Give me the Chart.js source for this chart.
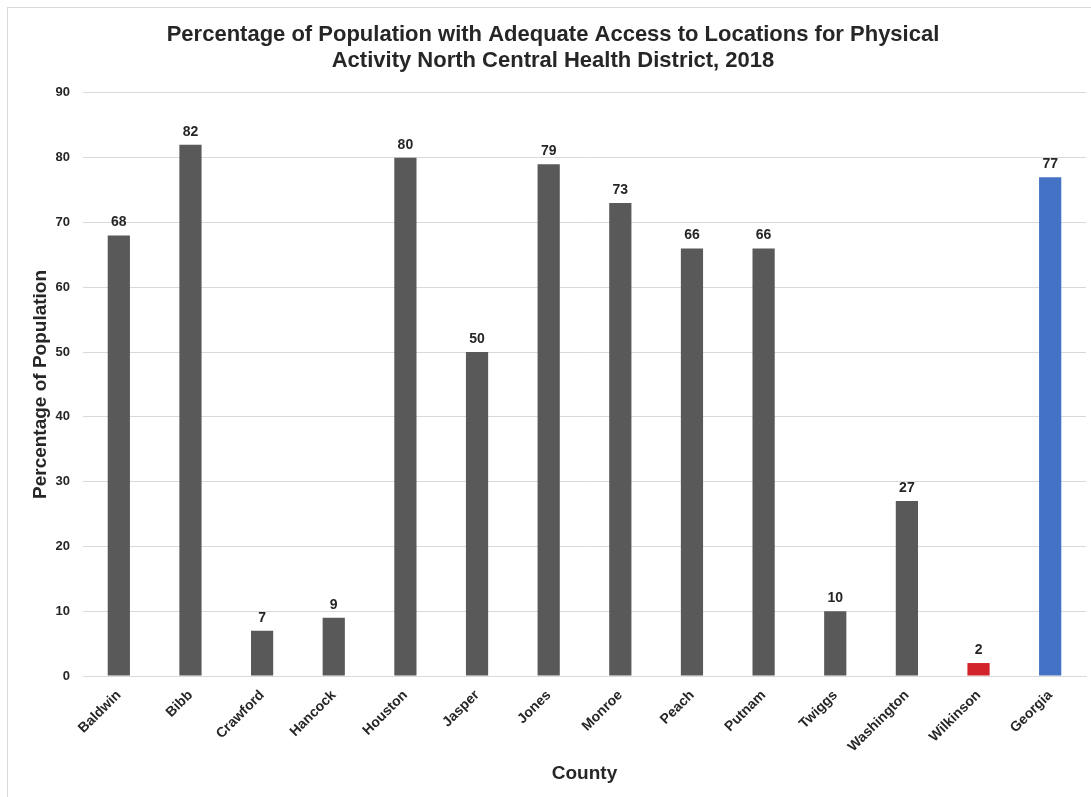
<html>

<head>
    <style>
        html, body { margin: 0; padding: 0; background: #fff; }
        #wrap { position: relative; width: 1091px; height: 797px; }
        #frame { position: absolute; left: 7px; top: 7px; width: 1100px; height: 800px; border-left: 1px solid #d9d9d9; border-top: 1px solid #d9d9d9; }
        canvas { position: absolute; left: 0; top: 0; }
    </style>
</head>

<body>
    <div id="wrap">
        <div id="frame"></div>
        <canvas id="chart_id" width="1091" height="797"></canvas>
    </div>
    <script src="https://cdn.jsdelivr.net/npm/chart.js"></script>
    <script>
        // 카테고리 / 값
        const counties = ['Baldwin', 'Bibb', 'Crawford', 'Hancock', 'Houston', 'Jasper', 'Jones',
            'Monroe', 'Peach', 'Putnam', 'Twiggs', 'Washington', 'Wilkinson', 'Georgia'];
        const percentages = [68, 82, 7, 9, 80, 50, 79, 73, 66, 66, 10, 27, 2, 77];
        const yTicks = [0, 10, 20, 30, 40, 50, 60, 70, 80, 90];

        const barColors = counties.map(c => c === 'Georgia' ? '#4472C4' : (c === 'Wilkinson' ? '#D2232A' : '#595959'));

        const FONT = "'Liberation Sans', Arial, sans-serif";

        // 막대 위 값 표시
        const valueLabels = {
            id: 'valueLabels',
            afterDatasetsDraw(chart) {
                const ctx = chart.ctx;
                const meta = chart.getDatasetMeta(0);
                ctx.save();
                ctx.font = 'bold 14px ' + FONT;
                ctx.fillStyle = '#262626';
                ctx.textAlign = 'center';
                ctx.textBaseline = 'bottom';
                meta.data.forEach((bar, i) => {
                    ctx.fillText(percentages[i], bar.x, bar.y - 6);
                });
                ctx.restore();
            }
        };

        const chartCanvas = document.getElementById('chart_id');
        new Chart(chartCanvas, {
            type: 'bar',
            data: {
                labels: counties,
                datasets: [{
                    data: percentages,
                    backgroundColor: barColors,
                    borderWidth: 0,
                    categoryPercentage: 1,
                    barPercentage: 0.31
                }]
            },
            options: {
                responsive: false,
                animation: false,
                layout: { padding: { top: 8, left: 20, right: 5, bottom: 0 } },
                plugins: {
                    legend: { display: false },
                    tooltip: { enabled: false },
                    title: {
                        display: true,
                        text: ['Percentage of Population with Adequate Access to Locations for Physical',
                            'Activity North Central Health District, 2018'],
                        color: '#262626',
                        font: { family: FONT, size: 22, weight: 'bold', lineHeight: 1.18 },
                        padding: { top: 14, bottom: 19 }
                    }
                },
                scales: {
                    x: {
                        grid: { display: false },
                        border: { display: true, color: '#d9d9d9' },
                        ticks: {
                            color: '#262626',
                            font: { family: FONT, size: 14, weight: 'bold' },
                            minRotation: 45, maxRotation: 45,
                            padding: 3
                        },
                        title: {
                            display: true, text: 'County', color: '#262626',
                            font: { family: FONT, size: 19, weight: 'bold' },
                            padding: { top: 4, bottom: 12 }
                        },
                        afterFit(scale) { scale.height = 797 - 676; }
                    },
                    y: {
                        min: 0, max: 90,
                        afterBuildTicks(scale) { scale.ticks = yTicks.map(v => ({ value: v })); },
                        grid: { color: '#d9d9d9', drawTicks: false },
                        border: { display: false },
                        ticks: {
                            color: '#262626',
                            font: { family: FONT, size: 13, weight: 'bold' },
                            padding: 13
                        },
                        title: {
                            display: true, text: 'Percentage of Population', color: '#262626',
                            font: { family: FONT, size: 19, weight: 'bold' },
                            padding: { top: 9, bottom: 0 }
                        },
                        afterFit(scale) { scale.width = 83 - 20; }
                    }
                }
            },
            plugins: [valueLabels]
        });
    </script>
</body>

</html>
